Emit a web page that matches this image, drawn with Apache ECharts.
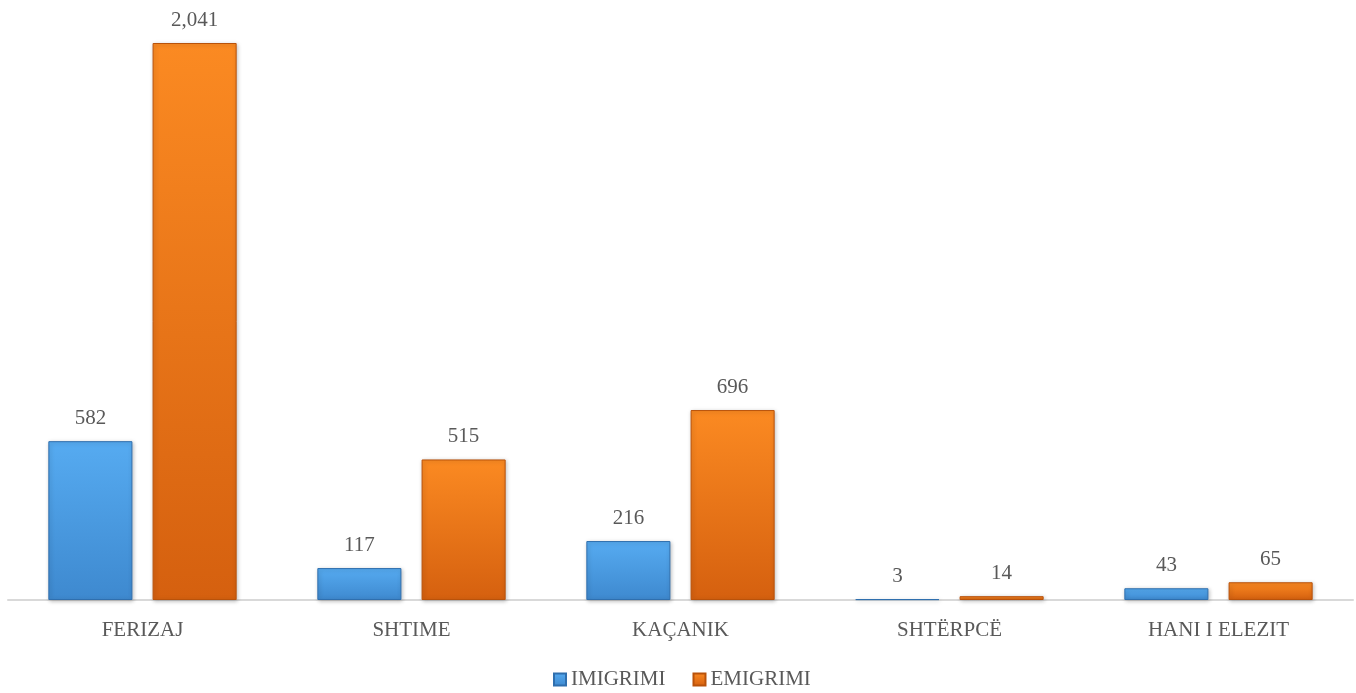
<!DOCTYPE html>
<html><head><meta charset="utf-8">
<script src="https://cdn.jsdelivr.net/npm/echarts@6/dist/echarts.min.js"></script>
<style>html,body{margin:0;padding:0;background:#fff}#c{width:1356px;height:693px}</style>
</head><body><div id="c"></div>
<script>
const categories = ['FERIZAJ', 'SHTIME', 'KAÇANIK', 'SHTËRPCË', 'HANI I ELEZIT'];
const imigrimi = [582, 117, 216, 3, 43];
const emigrimi = [2041, 515, 696, 14, 65];
const seriesNames = ['IMIGRIMI', 'EMIGRIMI'];

const FONT = '"Liberation Serif", serif';
const TXT = '#595959';
function vgrad(top, bottom) {
  return new echarts.graphic.LinearGradient(0, 0, 0, 1, [
    {offset: 0, color: top}, {offset: 1, color: bottom}
  ]);
}
const chart = echarts.init(document.getElementById('c'), null, {renderer: 'canvas'});
const lbl = {show: true, position: 'top', distance: 12, color: TXT, fontFamily: FONT, fontSize: 21,
  formatter: p => p.value.toLocaleString('en-US')};
chart.setOption({
  animation: false,
  grid: {left: 8, right: 3, top: 43, bottom: 93, containLabel: false},
  legend: {top: 664, left: 548, itemWidth: 12, itemHeight: 12, itemGap: 27, icon: 'rect',
    textStyle: {color: TXT, fontFamily: FONT, fontSize: 21}, data: seriesNames},
  xAxis: {type: 'category', data: categories,
    axisLine: {lineStyle: {color: '#d9d9d9', width: 2}}, axisTick: {show: false},
    axisLabel: {color: TXT, fontFamily: FONT, fontSize: 21, margin: 20}},
  yAxis: {type: 'value', min: 0, max: 2041, show: false, splitLine: {show: false}},
  series: [
    {name: seriesNames[0], type: 'bar', data: imigrimi, barGap: '24%', barCategoryGap: '30%',
      itemStyle: {color: vgrad('#56abf1', '#3e89cf'), borderColor: '#2f6fae', borderWidth: 1,
        shadowColor: 'rgba(0,0,0,0.25)', shadowBlur: 4, shadowOffsetX: 1, shadowOffsetY: 1},
      label: lbl},
    {name: seriesNames[1], type: 'bar', data: emigrimi,
      itemStyle: {color: vgrad('#fb8a22', '#d5600f'), borderColor: '#b9520a', borderWidth: 1,
        shadowColor: 'rgba(0,0,0,0.25)', shadowBlur: 4, shadowOffsetX: 1, shadowOffsetY: 1},
      label: lbl}
  ]
});
</script></body></html>
